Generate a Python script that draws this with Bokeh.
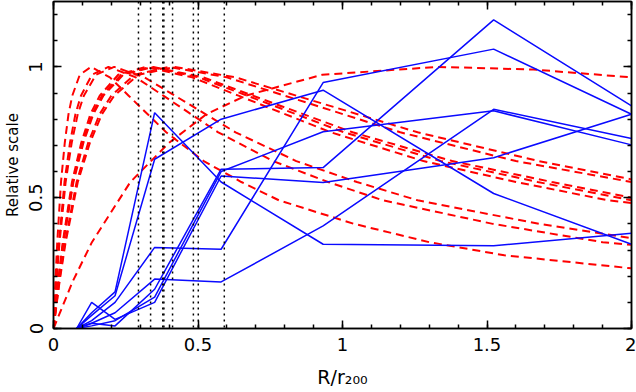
from bokeh.plotting import figure
from bokeh.models import Range1d, LinearAxis, FixedTicker, Span, CustomJSTickFormatter
from bokeh.embed import file_html
from bokeh.resources import INLINE

# ---- data ----
x_ticks = [0, 0.5, 1, 1.5, 2]
y_ticks = [0, 0.5, 1]
x_tick_labels = {0: "0", 0.5: "0.5", 1: "1", 1.5: "1.5", 2: "2"}
y_tick_labels = {0: "0", 0.5: "0.5", 1: "1"}

# vertical dotted markers
dotted_x = [0.294, 0.336, 0.378, 0.382, 0.412, 0.484, 0.501, 0.591]

# blue measured profiles (common radial bins)
blue_x = [0.08, 0.132, 0.213, 0.35, 0.58, 0.933, 1.523, 2.0]
blue_1 = [0, 0.06, 0.14, 0.825, 0.56, 0.322, 0.316, 0.364]
blue_2 = [0, 0.05, 0.125, 0.647, 0.80, 0.911, 0.516, 0.322]
blue_3 = [0, 0.03, 0.10, 0.31, 0.303, 0.94, 1.068, 0.819]
blue_4 = [0, 0.02, 0.06, 0.189, 0.178, 0.392, 0.838, 0.726]
blue_5 = [0, 0.01, 0.03, 0.12, 0.60, 0.752, 0.832, 0.702]
blue_6 = [0, 0.10, 0.035, 0.10, 0.583, 0.558, 0.653, 0.819]
blue_7 = [0, 0.02, 0.01, 0.15, 0.609, 0.615, 1.18, 0.851]

# red dashed model curves
red_x1 = [0, 0.0065, 0.013, 0.026, 0.039, 0.052, 0.065, 0.091, 0.13, 0.195, 0.26, 0.39, 0.52, 0.65, 0.78, 1.04, 1.3, 1.56, 2.0]
red_y1 = [0, 0.18, 0.33, 0.56, 0.71, 0.82, 0.89, 0.97, 1.0, 0.96, 0.89, 0.75, 0.64, 0.56, 0.49, 0.40, 0.33, 0.28, 0.23]
red_x2 = [0, 0.0095, 0.019, 0.038, 0.057, 0.076, 0.095, 0.133, 0.19, 0.285, 0.38, 0.57, 0.76, 0.95, 1.14, 1.52, 1.9, 2.0]
red_y2 = [0, 0.18, 0.33, 0.56, 0.71, 0.82, 0.89, 0.97, 1.0, 0.96, 0.89, 0.75, 0.64, 0.56, 0.49, 0.40, 0.33, 0.32]
red_x3 = [0, 0.0105, 0.021, 0.042, 0.063, 0.084, 0.105, 0.147, 0.21, 0.315, 0.42, 0.63, 0.84, 1.05, 1.26, 1.68, 2.0]
red_y3 = [0, 0.18, 0.33, 0.56, 0.71, 0.82, 0.89, 0.97, 1.0, 0.96, 0.89, 0.75, 0.64, 0.56, 0.49, 0.40, 0.345]
red_x4 = [0, 0.016, 0.032, 0.064, 0.096, 0.128, 0.16, 0.224, 0.32, 0.48, 0.64, 0.96, 1.28, 1.6, 1.92, 2.0]
red_y4 = [0, 0.18, 0.33, 0.56, 0.71, 0.82, 0.89, 0.97, 1.0, 0.96, 0.89, 0.75, 0.64, 0.56, 0.49, 0.48]
red_x5 = [0, 0.017, 0.0335, 0.067, 0.1, 0.134, 0.1675, 0.2345, 0.335, 0.5025, 0.67, 1.005, 1.34, 1.675, 2.0]
red_y5 = [0, 0.18, 0.33, 0.56, 0.71, 0.82, 0.89, 0.97, 1.0, 0.96, 0.89, 0.75, 0.64, 0.56, 0.49]
red_x6 = [0, 0.017, 0.0345, 0.069, 0.1035, 0.138, 0.1725, 0.2415, 0.345, 0.5175, 0.69, 1.035, 1.38, 1.725, 2.0]
red_y6 = [0, 0.18, 0.33, 0.56, 0.71, 0.82, 0.89, 0.97, 1.0, 0.96, 0.89, 0.75, 0.64, 0.56, 0.50]
red_x7 = [0, 0.02, 0.04, 0.08, 0.12, 0.16, 0.2, 0.28, 0.4, 0.6, 0.8, 1.2, 1.6, 2.0]
red_y7 = [0, 0.18, 0.33, 0.56, 0.71, 0.82, 0.89, 0.97, 1.0, 0.96, 0.89, 0.75, 0.64, 0.56]
red_x8 = [0, 0.021, 0.042, 0.084, 0.126, 0.168, 0.21, 0.294, 0.42, 0.63, 0.84, 1.26, 1.68, 2.0]
red_y8 = [0, 0.18, 0.33, 0.56, 0.71, 0.82, 0.89, 0.97, 1.0, 0.96, 0.89, 0.75, 0.64, 0.57]
red_x9 = [0, 0.0665, 0.133, 0.266, 0.4, 0.53, 0.665, 0.93, 1.33, 1.66, 2.0]
red_y9 = [0, 0.18, 0.33, 0.56, 0.71, 0.82, 0.89, 0.97, 1.0, 0.99, 0.96]

blue_series = [blue_1, blue_2, blue_3, blue_4, blue_5, blue_6, blue_7]
red_series = [(red_x1, red_y1), (red_x2, red_y2), (red_x3, red_y3), (red_x4, red_y4),
              (red_x5, red_y5), (red_x6, red_y6), (red_x7, red_y7), (red_x8, red_y8),
              (red_x9, red_y9)]

FONT = "DejaVu Sans"

p = figure(width=636, height=392, output_backend="svg", toolbar_location=None,
           x_range=Range1d(0, 2), y_range=Range1d(0, 1.25),
           min_border_left=52, min_border_right=5, min_border_top=1, min_border_bottom=64)
p.grid.visible = False
p.background_fill_color = "white"
p.border_fill_color = "white"
p.outline_line_color = "black"
p.outline_line_width = 1.5

minor_x = [round(0.1 * i, 2) for i in range(21)]
minor_y = [round(0.1 * i, 2) for i in range(13)]

def style_axis(ax, ticks, minor):
    ax.ticker = FixedTicker(ticks=ticks, minor_ticks=minor)
    ax.axis_line_color = "black"
    ax.axis_line_width = 1.5
    ax.major_tick_in = 8
    ax.major_tick_out = 0
    ax.minor_tick_in = 4
    ax.minor_tick_out = 0
    ax.major_tick_line_color = "black"
    ax.minor_tick_line_color = "black"
    ax.major_tick_line_width = 1.5
    ax.minor_tick_line_width = 1.5

xa = p.xaxis[0]
ya = p.yaxis[0]
style_axis(xa, x_ticks, minor_x)
style_axis(ya, y_ticks, minor_y)
for ax, ov in ((xa, x_tick_labels), (ya, y_tick_labels)):
    ax.major_label_overrides = ov
    ax.major_label_text_font = FONT
    ax.major_label_text_font_size = "18px"
    ax.major_label_text_color = "black"
    ax.axis_label_text_font = FONT
    ax.axis_label_text_font_style = "normal"
    ax.axis_label_text_color = "black"
xa.major_label_standoff = 9
ya.major_label_standoff = 11
ya.major_label_orientation = "vertical"
ya.axis_label = "Relative scale"
ya.axis_label_text_font_size = "15px"
ya.axis_label_standoff = 5
xa.axis_label = "R/r\u2082\u2080\u2080"
xa.axis_label_text_font_size = "19px"
xa.axis_label_standoff = 12

blank = CustomJSTickFormatter(code="return ''")
for loc, ticks, minor in (("above", x_ticks, minor_x), ("right", y_ticks, minor_y)):
    ax = LinearAxis(formatter=blank, major_label_standoff=0, axis_label_standoff=0)
    style_axis(ax, ticks, minor)
    p.add_layout(ax, loc)

for v in dotted_x:
    p.add_layout(Span(location=v, dimension="height", line_color="black",
                      line_dash="2 4", line_width=1.5))

for xs, ys in red_series:
    p.line(xs, ys, line_color="red", line_width=2, line_dash="8 5")

for ys in blue_series:
    p.line(blue_x, ys, line_color="#0a0aff", line_width=1.5)

open("out.html", "w").write(file_html(p, INLINE))
